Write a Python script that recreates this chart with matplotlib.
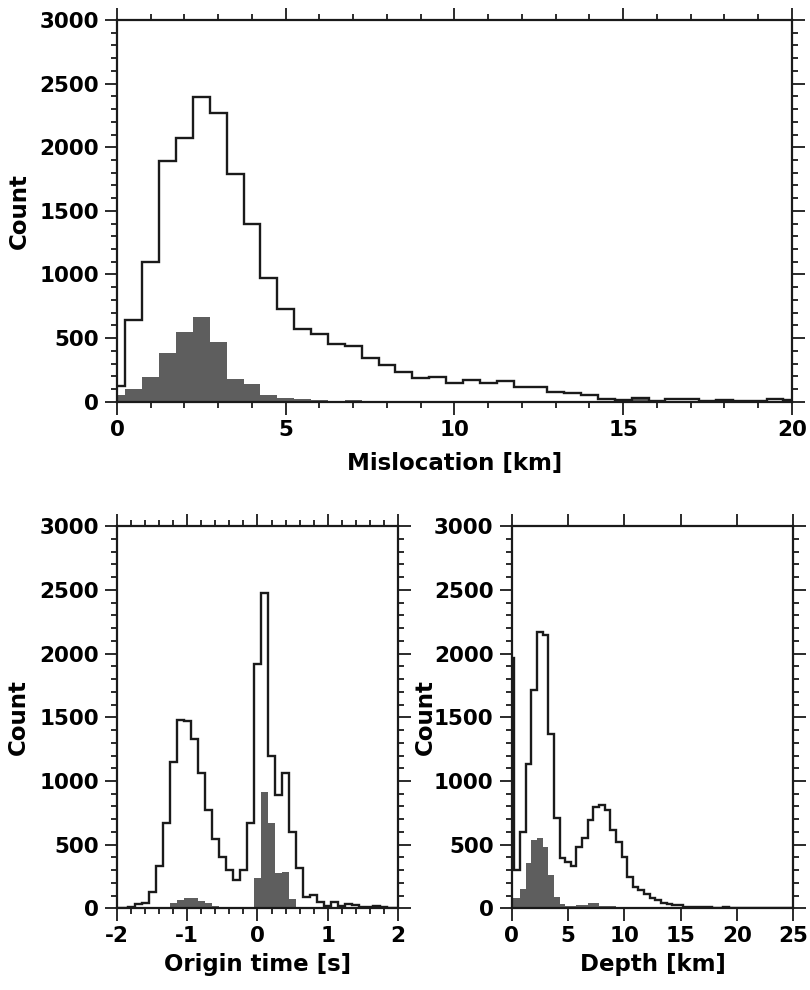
import numpy as np
import matplotlib
matplotlib.use("Agg")
import matplotlib.pyplot as plt
from matplotlib.ticker import MultipleLocator

# ---------------- data ----------------
# Mislocation histogram (bin centres in km, width 0.5 km)
mis_centers = np.arange(0, 20.01, 0.5)
mis_all = [123, 645, 1097, 1893, 2071, 2397, 2272, 1789, 1397, 971,
           731, 574, 535, 457, 438, 345, 287, 235, 183, 196,
           144, 170, 151, 162, 112, 112, 78, 65, 52, 21,
           13, 31, 8, 18, 18, 8, 10, 8, 8, 18, 15]
mis_sel = [50, 104, 196, 384, 548, 666, 470, 178, 138, 52,
           26, 18, 10, 8, 10, 3, 5, 3, 3, 3,
           3, 3, 3, 3, 3, 3, 3, 3, 3, 3,
           3, 20, 3, 3, 3, 3, 3, 3, 3, 5, 3]

# Origin time histogram (bin centres in s, width 0.1 s)
ot_centers = np.round(np.arange(-2.0, 2.001, 0.1), 2)
ot_all = [0, 0, 13, 31, 44, 125, 335, 667, 1150, 1477,
          1470, 1333, 1059, 771, 541, 405, 300, 222, 300, 667,
          1916, 2480, 1195, 889, 1066, 601, 314, 91, 105, 52,
          21, 52, 21, 34, 26, 13, 13, 21, 8, 4, 0]
ot_sel = [0, 0, 0, 0, 0, 0, 5, 13, 39, 65,
          78, 78, 60, 39, 21, 8, 0, 0, 0, 0,
          235, 915, 667, 280, 288, 73, 0, 0, 0, 0,
          0, 0, 0, 0, 0, 0, 0, 0, 0, 0, 0]

# Depth histogram (bin centres in km, width 0.5 km)
dep_centers = np.arange(0, 25.01, 0.5)
dep_all = [1965, 301, 601, 1137, 1712, 2171, 2145, 1372, 706, 392,
           366, 332, 484, 549, 693, 797, 810, 771, 614, 523,
           405, 248, 165, 144, 112, 78, 65, 39, 31, 26,
           26, 13, 8, 13, 8, 8, 5, 5, 8, 5,
           3, 0, 0, 0, 0, 0, 0, 0, 0, 0, 0]
dep_sel = [78, 78, 149, 353, 536, 549, 484, 261, 91, 31,
           21, 21, 26, 26, 39, 39, 21, 21, 15, 10,
           5, 3, 3, 2, 2, 0, 0, 0, 0, 0,
           0, 0, 0, 0, 0, 0, 0, 0, 0, 0,
           0, 0, 0, 0, 0, 0, 0, 0, 0, 0, 0]

FILL = "#5e5e5e"
plt.rcParams['font.family'] = ['DejaVu Sans']
plt.rcParams['font.weight'] = 'bold'
plt.rcParams['axes.unicode_minus'] = False

fig = plt.figure(figsize=(8.1, 9.9), dpi=100)
ax1 = fig.add_axes([0.1444, 0.5942, 0.8333, 0.3856])
ax2 = fig.add_axes([0.1444, 0.0825, 0.3469, 0.3859])
ax3 = fig.add_axes([0.6317, 0.0825, 0.3477, 0.3859])


def edges_from(centers, width):
    c = np.asarray(centers, dtype=float)
    return np.concatenate([c - width / 2, [c[-1] + width / 2]])


def draw(ax, centers, width, allv, selv, xlim, xmajor, xminor, xlabel, xpad):
    e = edges_from(centers, width)
    ax.stairs(selv, e, fill=True, color=FILL, linewidth=0, zorder=2)
    ax.stairs(allv, e, fill=False, color="#1a1a1a", linewidth=1.7,
              baseline=0, zorder=3)
    ax.set_xlim(*xlim)
    ax.set_ylim(0, 3000)
    ax.xaxis.set_major_locator(MultipleLocator(xmajor))
    if xminor:
        ax.xaxis.set_minor_locator(MultipleLocator(xminor))
    ax.yaxis.set_major_locator(MultipleLocator(500))
    ax.yaxis.set_minor_locator(MultipleLocator(100))
    ax.tick_params(which='both', direction='out', top=True, right=True,
                   width=1.3, color='#1a1a1a', labelsize=15.5, pad=4)
    ax.tick_params(which='major', length=9)
    ax.tick_params(which='minor', length=4.5)
    for s in ax.spines.values():
        s.set_linewidth(1.6)
        s.set_color('#1a1a1a')
    for lab in ax.get_xticklabels() + ax.get_yticklabels():
        lab.set_fontweight('bold')
    ax.set_xlabel(xlabel, fontsize=16.5, fontweight='bold', labelpad=xpad)
    ax.set_ylabel('Count', fontsize=16.5, fontweight='bold', labelpad=4)
    ax.set_facecolor('white')


draw(ax1, mis_centers, 0.5, mis_all, mis_sel, (0, 20), 5, 1,
     'Mislocation [km]', 9)
draw(ax2, ot_centers, 0.1, ot_all, ot_sel, (-2, 2), 1, 0.2,
     'Origin time [s]', 5)
draw(ax3, dep_centers, 0.5, dep_all, dep_sel, (0, 25), 5, None,
     'Depth [km]', 5)

ax1.yaxis.set_label_coords(-0.128, 0.5)
ax2.yaxis.set_label_coords(-0.31, 0.5)
ax3.yaxis.set_label_coords(-0.265, 0.5)

fig.savefig('out.png', dpi=100, facecolor='white')
